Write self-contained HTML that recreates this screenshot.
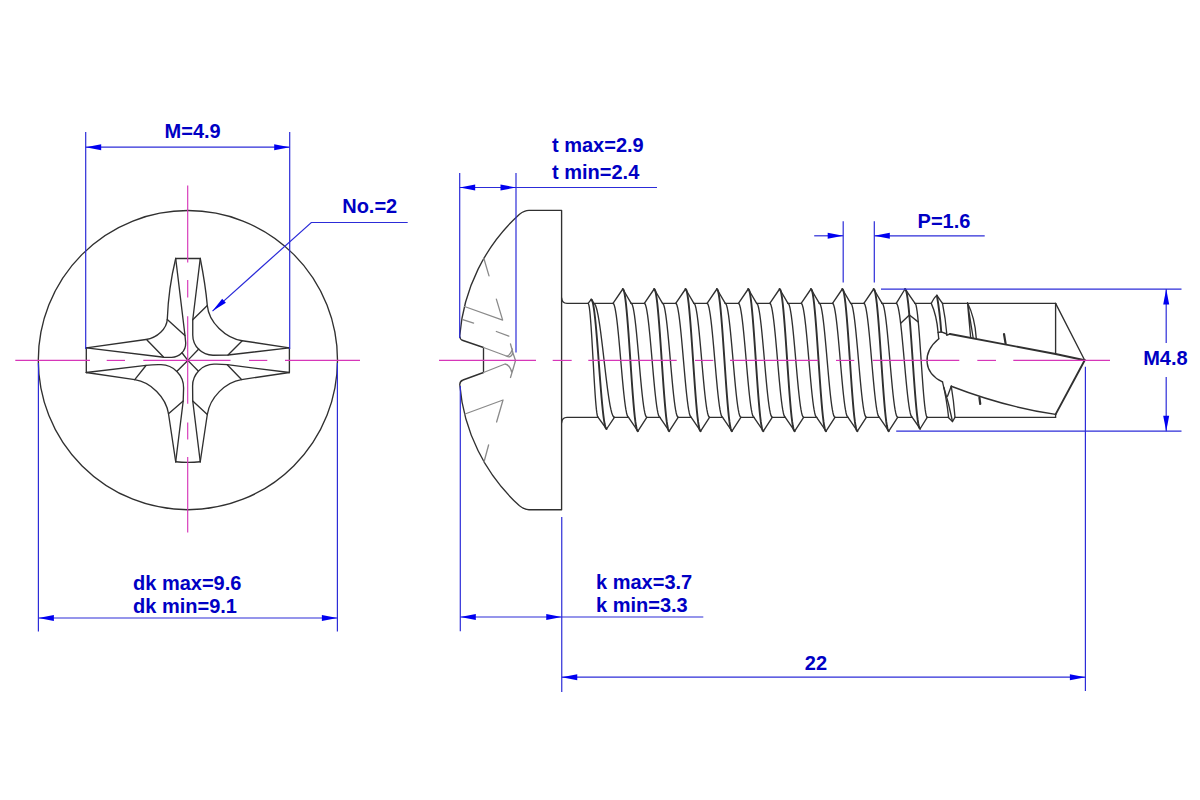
<!DOCTYPE html>
<html><head><meta charset="utf-8"><title>Screw drawing</title>
<style>
html,body{margin:0;padding:0;background:#fff;}
body{width:1200px;height:800px;overflow:hidden;}
svg{display:block;}
.k{fill:none;stroke:#303030;stroke-width:1.35;stroke-linejoin:round;stroke-linecap:round;}
.kc{fill:none;stroke:#303030;stroke-width:1.9;stroke-linejoin:round;stroke-linecap:round;}
.kt{fill:none;stroke:#303030;stroke-width:2.2;stroke-linecap:round;}
.g{fill:none;stroke:#8a8a8a;stroke-width:1.3;stroke-linejoin:round;stroke-linecap:round;}
.b{fill:none;stroke:#2c2cd8;stroke-width:1.2;}
.m{fill:none;stroke:#d636b8;stroke-width:1.15;}
.ar{fill:#0000f0;stroke:none;}
text{font-family:"Liberation Sans",sans-serif;font-weight:bold;font-size:20px;fill:#0000c4;}
</style></head>
<body>
<svg width="1200" height="800" viewBox="0 0 1200 800">
<rect x="0" y="0" width="1200" height="800" fill="#ffffff"/>
<circle cx="187.9" cy="360.15" r="149.6" class="k"/>
<path d="M175.7,258.5 L200.25,258.5" class="k"/>
<path d="M175.7,461.75 Q188,463 200.25,461.75" class="k"/>
<path d="M86.3,347.8 L86.3,372.5" class="k"/>
<path d="M289.4,347.8 L289.4,372.5" class="k"/>
<path d="M175.7,258.5 Q168.5,288 167.3,319 C166.9,328.7 157.3,337.9 146,339.5 L86.3,347.8" class="k"/>
<path d="M175.7,258.5 L185,335.5 L185.7,343 A14 14 0 0 1 171.7,357.3 L164,357.25 L86.3,347.8" class="k"/>
<path d="M167.3,319.5 L184.9,335.5 M147,340 L163.25,356.8 M182,352.75 L187.8,360.4" class="k"/>
<path d="M200.25,258.5 Q205.5,285 207.3,305.5 C208.8,322.4 225.6,338.25 242.25,340.75 L289.4,347.8" class="k"/>
<path d="M200.25,258.5 L192.75,319.75 L192.75,335 A20.2 20.2 0 0 0 213,355.2 L228,355 L289.4,347.8" class="k"/>
<path d="M207.3,305.5 L192.75,319.75 M242.25,340.75 L228,355 M198.75,349 L187.8,360.4" class="k"/>
<path d="M86.3,372.5 L134.75,379.7 C150.8,382.1 166,397.4 168.5,413.75 L175.7,461.75" class="k"/>
<path d="M86.3,372.5 L146,365.3 Q154,364.5 161,364.7 A23 23 0 0 1 183.6,388 L183.2,401 L175.7,461.75" class="k"/>
<path d="M134.75,379.7 L146,365.5 M168.5,413.75 L183.2,401 M177.2,371 L187.8,360.4" class="k"/>
<path d="M289.4,372.5 L241.5,379.55 C225.3,382 209.9,397.7 207.3,414.5 L200.25,461.75" class="k"/>
<path d="M289.4,372.5 L227.25,364.7 Q220,364 214,364.2 A21.7 21.7 0 0 0 192.6,386 L192.75,401 L200.25,461.75" class="k"/>
<path d="M241.5,379.55 L227.25,364.7 M207.3,414.5 L192.75,401 M198,370.8 L187.8,360.4" class="k"/>
<path d="M561.6,360 L561.6,210.3 L529,210.3 Q524.5,210.3 519.5,214.2 A184.5 184.5 0 0 0 459.7,336 Q459.9,339.6 463,340.5 L483.5,347.5 L483.5,372.5 L463,380 Q460,381 459.75,384.5 A184.5 184.5 0 0 0 519.5,505.8 Q524.5,509.75 529,509.75 L561.6,509.75 L561.6,360" class="k"/>
<path d="M561.6,298 Q562,303.3 567,303.4 L588.1,303.4" class="k"/>
<path d="M561.6,422.7 Q562,417.4 567,417.3 L598.1,417.3" class="k"/>
<path d="M483.75,258 L489,275.85 M464.5,306.5 L502.65,320.1 L496.35,299.1 M462.75,319.6 L473.6,323.1 M496.35,331.5 L508.8,336.2" class="g"/>
<path d="M483.5,347.5 L505,355.5 Q509.5,357.5 512.5,349 M505,355.5 Q511,359 512.8,353 M510.5,344 Q513,354 515.5,360.5 Q513.5,368 510.5,377.5 M483.5,372.5 L505,364 Q510,365 512,373" class="g"/>
<path d="M465,414 L503,400 L496.6,422 M488.6,445 L484,462" class="g"/>
<polyline points="588.1,303.4 591.25,299.4 593.75,303.4" class="k"/>
<polyline points="598.1,417.3 606.6,429 614.4,417.3" class="k"/>
<polyline points="588.1,303.4 588.52,303.89 588.93,305.34 589.35,307.74 589.77,311.03 590.18,315.17 590.6,320.08 591.02,325.68 591.43,331.88 591.85,338.56 592.27,345.61 592.68,352.92 593.1,360.35 593.52,367.78 593.93,375.09 594.35,382.14 594.77,388.83 595.18,395.02 595.6,400.62 596.02,405.53 596.43,409.67 596.85,412.96 597.27,415.36 597.68,416.81 598.1,417.3" class="k"/>
<polyline points="591.25,299.4 591.89,299.95 592.53,301.61 593.17,304.33 593.81,308.08 594.45,312.79 595.09,318.38 595.73,324.75 596.37,331.8 597.01,339.4 597.65,347.43 598.29,355.74 598.92,364.2 599.56,372.66 600.2,380.97 600.84,389 601.48,396.6 602.12,403.65 602.76,410.02 603.4,415.61 604.04,420.32 604.68,424.07 605.32,426.79 605.96,428.45 606.6,429" class="kc"/>
<polyline points="593.75,303.4 594.61,303.89 595.47,305.34 596.33,307.74 597.19,311.03 598.05,315.17 598.91,320.08 599.77,325.68 600.63,331.88 601.49,338.56 602.35,345.61 603.21,352.92 604.08,360.35 604.94,367.78 605.8,375.09 606.66,382.14 607.52,388.83 608.38,395.02 609.24,400.62 610.1,405.53 610.96,409.67 611.82,412.96 612.68,415.36 613.54,416.81 614.4,417.3" class="k"/>
<line x1="593.75" y1="303.4" x2="613" y2="303.4" class="k"/>
<line x1="614.4" y1="417.3" x2="628.5" y2="417.3" class="k"/>
<polyline points="613,303.4 622.8,289 631.2,303.4" class="k"/>
<polyline points="628.5,417.3 637.9,431.2 646.8,417.3" class="k"/>
<polyline points="613,303.4 613.65,303.89 614.29,305.34 614.94,307.74 615.58,311.03 616.23,315.17 616.88,320.08 617.52,325.68 618.17,331.88 618.81,338.56 619.46,345.61 620.1,352.92 620.75,360.35 621.4,367.78 622.04,375.09 622.69,382.14 623.33,388.83 623.98,395.02 624.62,400.62 625.27,405.53 625.92,409.67 626.56,412.96 627.21,415.36 627.85,416.81 628.5,417.3" class="k"/>
<polyline points="622.8,289 623.43,289.61 624.06,291.42 624.69,294.41 625.32,298.53 625.95,303.69 626.57,309.82 627.2,316.82 627.83,324.55 628.46,332.89 629.09,341.7 629.72,350.82 630.35,360.1 630.98,369.38 631.61,378.5 632.24,387.31 632.87,395.65 633.5,403.38 634.12,410.38 634.75,416.51 635.38,421.67 636.01,425.79 636.64,428.78 637.27,430.59 637.9,431.2" class="kc"/>
<polyline points="631.2,303.4 631.85,303.89 632.5,305.34 633.15,307.74 633.8,311.03 634.45,315.17 635.1,320.08 635.75,325.68 636.4,331.88 637.05,338.56 637.7,345.61 638.35,352.92 639,360.35 639.65,367.78 640.3,375.09 640.95,382.14 641.6,388.83 642.25,395.02 642.9,400.62 643.55,405.53 644.2,409.67 644.85,412.96 645.5,415.36 646.15,416.81 646.8,417.3" class="k"/>
<line x1="631.2" y1="303.4" x2="644.36" y2="303.4" class="k"/>
<line x1="646.8" y1="417.3" x2="659.86" y2="417.3" class="k"/>
<polyline points="644.36,303.4 654.16,289 662.56,303.4" class="k"/>
<polyline points="659.86,417.3 669.26,431.2 678.16,417.3" class="k"/>
<polyline points="644.36,303.4 645.01,303.89 645.65,305.34 646.3,307.74 646.94,311.03 647.59,315.17 648.24,320.08 648.88,325.68 649.53,331.88 650.17,338.56 650.82,345.61 651.46,352.92 652.11,360.35 652.76,367.78 653.4,375.09 654.05,382.14 654.69,388.83 655.34,395.02 655.99,400.62 656.63,405.53 657.28,409.67 657.92,412.96 658.57,415.36 659.21,416.81 659.86,417.3" class="k"/>
<polyline points="654.16,289 654.79,289.61 655.42,291.42 656.05,294.41 656.68,298.53 657.31,303.69 657.93,309.82 658.56,316.82 659.19,324.55 659.82,332.89 660.45,341.7 661.08,350.82 661.71,360.1 662.34,369.38 662.97,378.5 663.6,387.31 664.23,395.65 664.86,403.38 665.49,410.38 666.11,416.51 666.74,421.67 667.37,425.79 668,428.78 668.63,430.59 669.26,431.2" class="kc"/>
<polyline points="662.56,303.4 663.21,303.89 663.86,305.34 664.51,307.74 665.16,311.03 665.81,315.17 666.46,320.08 667.11,325.68 667.76,331.88 668.41,338.56 669.06,345.61 669.71,352.92 670.36,360.35 671.01,367.78 671.66,375.09 672.31,382.14 672.96,388.83 673.61,395.02 674.26,400.62 674.91,405.53 675.56,409.67 676.21,412.96 676.86,415.36 677.51,416.81 678.16,417.3" class="k"/>
<line x1="662.56" y1="303.4" x2="675.72" y2="303.4" class="k"/>
<line x1="678.16" y1="417.3" x2="691.22" y2="417.3" class="k"/>
<polyline points="675.72,303.4 685.52,289 693.92,303.4" class="k"/>
<polyline points="691.22,417.3 700.62,431.2 709.52,417.3" class="k"/>
<polyline points="675.72,303.4 676.37,303.89 677.01,305.34 677.66,307.74 678.3,311.03 678.95,315.17 679.6,320.08 680.24,325.68 680.89,331.88 681.53,338.56 682.18,345.61 682.82,352.92 683.47,360.35 684.12,367.78 684.76,375.09 685.41,382.14 686.05,388.83 686.7,395.02 687.35,400.62 687.99,405.53 688.64,409.67 689.28,412.96 689.93,415.36 690.57,416.81 691.22,417.3" class="k"/>
<polyline points="685.52,289 686.15,289.61 686.78,291.42 687.41,294.41 688.04,298.53 688.67,303.69 689.29,309.82 689.92,316.82 690.55,324.55 691.18,332.89 691.81,341.7 692.44,350.82 693.07,360.1 693.7,369.38 694.33,378.5 694.96,387.31 695.59,395.65 696.22,403.38 696.85,410.38 697.47,416.51 698.1,421.67 698.73,425.79 699.36,428.78 699.99,430.59 700.62,431.2" class="kc"/>
<polyline points="693.92,303.4 694.57,303.89 695.22,305.34 695.87,307.74 696.52,311.03 697.17,315.17 697.82,320.08 698.47,325.68 699.12,331.88 699.77,338.56 700.42,345.61 701.07,352.92 701.72,360.35 702.37,367.78 703.02,375.09 703.67,382.14 704.32,388.83 704.97,395.02 705.62,400.62 706.27,405.53 706.92,409.67 707.57,412.96 708.22,415.36 708.87,416.81 709.52,417.3" class="k"/>
<line x1="693.92" y1="303.4" x2="707.08" y2="303.4" class="k"/>
<line x1="709.52" y1="417.3" x2="722.58" y2="417.3" class="k"/>
<polyline points="707.08,303.4 716.88,289 725.28,303.4" class="k"/>
<polyline points="722.58,417.3 731.98,431.2 740.88,417.3" class="k"/>
<polyline points="707.08,303.4 707.73,303.89 708.37,305.34 709.02,307.74 709.66,311.03 710.31,315.17 710.96,320.08 711.6,325.68 712.25,331.88 712.89,338.56 713.54,345.61 714.18,352.92 714.83,360.35 715.48,367.78 716.12,375.09 716.77,382.14 717.41,388.83 718.06,395.02 718.71,400.62 719.35,405.53 720,409.67 720.64,412.96 721.29,415.36 721.93,416.81 722.58,417.3" class="k"/>
<polyline points="716.88,289 717.51,289.61 718.14,291.42 718.77,294.41 719.4,298.53 720.03,303.69 720.65,309.82 721.28,316.82 721.91,324.55 722.54,332.89 723.17,341.7 723.8,350.82 724.43,360.1 725.06,369.38 725.69,378.5 726.32,387.31 726.95,395.65 727.58,403.38 728.21,410.38 728.83,416.51 729.46,421.67 730.09,425.79 730.72,428.78 731.35,430.59 731.98,431.2" class="kc"/>
<polyline points="725.28,303.4 725.93,303.89 726.58,305.34 727.23,307.74 727.88,311.03 728.53,315.17 729.18,320.08 729.83,325.68 730.48,331.88 731.13,338.56 731.78,345.61 732.43,352.92 733.08,360.35 733.73,367.78 734.38,375.09 735.03,382.14 735.68,388.83 736.33,395.02 736.98,400.62 737.63,405.53 738.28,409.67 738.93,412.96 739.58,415.36 740.23,416.81 740.88,417.3" class="k"/>
<line x1="725.28" y1="303.4" x2="738.44" y2="303.4" class="k"/>
<line x1="740.88" y1="417.3" x2="753.94" y2="417.3" class="k"/>
<polyline points="738.44,303.4 748.24,289 756.64,303.4" class="k"/>
<polyline points="753.94,417.3 763.34,431.2 772.24,417.3" class="k"/>
<polyline points="738.44,303.4 739.09,303.89 739.73,305.34 740.38,307.74 741.02,311.03 741.67,315.17 742.32,320.08 742.96,325.68 743.61,331.88 744.25,338.56 744.9,345.61 745.54,352.92 746.19,360.35 746.84,367.78 747.48,375.09 748.13,382.14 748.77,388.83 749.42,395.02 750.07,400.62 750.71,405.53 751.36,409.67 752,412.96 752.65,415.36 753.29,416.81 753.94,417.3" class="k"/>
<polyline points="748.24,289 748.87,289.61 749.5,291.42 750.13,294.41 750.76,298.53 751.39,303.69 752.01,309.82 752.64,316.82 753.27,324.55 753.9,332.89 754.53,341.7 755.16,350.82 755.79,360.1 756.42,369.38 757.05,378.5 757.68,387.31 758.31,395.65 758.94,403.38 759.57,410.38 760.19,416.51 760.82,421.67 761.45,425.79 762.08,428.78 762.71,430.59 763.34,431.2" class="kc"/>
<polyline points="756.64,303.4 757.29,303.89 757.94,305.34 758.59,307.74 759.24,311.03 759.89,315.17 760.54,320.08 761.19,325.68 761.84,331.88 762.49,338.56 763.14,345.61 763.79,352.92 764.44,360.35 765.09,367.78 765.74,375.09 766.39,382.14 767.04,388.83 767.69,395.02 768.34,400.62 768.99,405.53 769.64,409.67 770.29,412.96 770.94,415.36 771.59,416.81 772.24,417.3" class="k"/>
<line x1="756.64" y1="303.4" x2="769.8" y2="303.4" class="k"/>
<line x1="772.24" y1="417.3" x2="785.3" y2="417.3" class="k"/>
<polyline points="769.8,303.4 779.6,289 788,303.4" class="k"/>
<polyline points="785.3,417.3 794.7,431.2 803.6,417.3" class="k"/>
<polyline points="769.8,303.4 770.45,303.89 771.09,305.34 771.74,307.74 772.38,311.03 773.03,315.17 773.67,320.08 774.32,325.68 774.97,331.88 775.61,338.56 776.26,345.61 776.9,352.92 777.55,360.35 778.2,367.78 778.84,375.09 779.49,382.14 780.13,388.83 780.78,395.02 781.42,400.62 782.07,405.53 782.72,409.67 783.36,412.96 784.01,415.36 784.65,416.81 785.3,417.3" class="k"/>
<polyline points="779.6,289 780.23,289.61 780.86,291.42 781.49,294.41 782.12,298.53 782.75,303.69 783.37,309.82 784,316.82 784.63,324.55 785.26,332.89 785.89,341.7 786.52,350.82 787.15,360.1 787.78,369.38 788.41,378.5 789.04,387.31 789.67,395.65 790.3,403.38 790.92,410.38 791.55,416.51 792.18,421.67 792.81,425.79 793.44,428.78 794.07,430.59 794.7,431.2" class="kc"/>
<polyline points="788,303.4 788.65,303.89 789.3,305.34 789.95,307.74 790.6,311.03 791.25,315.17 791.9,320.08 792.55,325.68 793.2,331.88 793.85,338.56 794.5,345.61 795.15,352.92 795.8,360.35 796.45,367.78 797.1,375.09 797.75,382.14 798.4,388.83 799.05,395.02 799.7,400.62 800.35,405.53 801,409.67 801.65,412.96 802.3,415.36 802.95,416.81 803.6,417.3" class="k"/>
<line x1="788" y1="303.4" x2="801.16" y2="303.4" class="k"/>
<line x1="803.6" y1="417.3" x2="816.66" y2="417.3" class="k"/>
<polyline points="801.16,303.4 810.96,289 819.36,303.4" class="k"/>
<polyline points="816.66,417.3 826.06,431.2 834.96,417.3" class="k"/>
<polyline points="801.16,303.4 801.81,303.89 802.45,305.34 803.1,307.74 803.74,311.03 804.39,315.17 805.03,320.08 805.68,325.68 806.33,331.88 806.97,338.56 807.62,345.61 808.26,352.92 808.91,360.35 809.56,367.78 810.2,375.09 810.85,382.14 811.49,388.83 812.14,395.02 812.78,400.62 813.43,405.53 814.08,409.67 814.72,412.96 815.37,415.36 816.01,416.81 816.66,417.3" class="k"/>
<polyline points="810.96,289 811.59,289.61 812.22,291.42 812.85,294.41 813.48,298.53 814.11,303.69 814.73,309.82 815.36,316.82 815.99,324.55 816.62,332.89 817.25,341.7 817.88,350.82 818.51,360.1 819.14,369.38 819.77,378.5 820.4,387.31 821.03,395.65 821.66,403.38 822.28,410.38 822.91,416.51 823.54,421.67 824.17,425.79 824.8,428.78 825.43,430.59 826.06,431.2" class="kc"/>
<polyline points="819.36,303.4 820.01,303.89 820.66,305.34 821.31,307.74 821.96,311.03 822.61,315.17 823.26,320.08 823.91,325.68 824.56,331.88 825.21,338.56 825.86,345.61 826.51,352.92 827.16,360.35 827.81,367.78 828.46,375.09 829.11,382.14 829.76,388.83 830.41,395.02 831.06,400.62 831.71,405.53 832.36,409.67 833.01,412.96 833.66,415.36 834.31,416.81 834.96,417.3" class="k"/>
<line x1="819.36" y1="303.4" x2="832.52" y2="303.4" class="k"/>
<line x1="834.96" y1="417.3" x2="848.02" y2="417.3" class="k"/>
<polyline points="832.52,303.4 842.32,289 850.72,303.4" class="k"/>
<polyline points="848.02,417.3 857.42,431.2 866.32,417.3" class="k"/>
<polyline points="832.52,303.4 833.17,303.89 833.81,305.34 834.46,307.74 835.1,311.03 835.75,315.17 836.39,320.08 837.04,325.68 837.69,331.88 838.33,338.56 838.98,345.61 839.62,352.92 840.27,360.35 840.92,367.78 841.56,375.09 842.21,382.14 842.85,388.83 843.5,395.02 844.14,400.62 844.79,405.53 845.44,409.67 846.08,412.96 846.73,415.36 847.37,416.81 848.02,417.3" class="k"/>
<polyline points="842.32,289 842.95,289.61 843.58,291.42 844.21,294.41 844.84,298.53 845.47,303.69 846.09,309.82 846.72,316.82 847.35,324.55 847.98,332.89 848.61,341.7 849.24,350.82 849.87,360.1 850.5,369.38 851.13,378.5 851.76,387.31 852.39,395.65 853.02,403.38 853.64,410.38 854.27,416.51 854.9,421.67 855.53,425.79 856.16,428.78 856.79,430.59 857.42,431.2" class="kc"/>
<polyline points="850.72,303.4 851.37,303.89 852.02,305.34 852.67,307.74 853.32,311.03 853.97,315.17 854.62,320.08 855.27,325.68 855.92,331.88 856.57,338.56 857.22,345.61 857.87,352.92 858.52,360.35 859.17,367.78 859.82,375.09 860.47,382.14 861.12,388.83 861.77,395.02 862.42,400.62 863.07,405.53 863.72,409.67 864.37,412.96 865.02,415.36 865.67,416.81 866.32,417.3" class="k"/>
<line x1="850.72" y1="303.4" x2="863.88" y2="303.4" class="k"/>
<line x1="866.32" y1="417.3" x2="879.38" y2="417.3" class="k"/>
<polyline points="863.88,303.4 873.68,289 882.08,303.4" class="k"/>
<polyline points="879.38,417.3 888.78,431.2 897.68,417.3" class="k"/>
<polyline points="863.88,303.4 864.53,303.89 865.17,305.34 865.82,307.74 866.46,311.03 867.11,315.17 867.75,320.08 868.4,325.68 869.05,331.88 869.69,338.56 870.34,345.61 870.98,352.92 871.63,360.35 872.28,367.78 872.92,375.09 873.57,382.14 874.21,388.83 874.86,395.02 875.5,400.62 876.15,405.53 876.8,409.67 877.44,412.96 878.09,415.36 878.73,416.81 879.38,417.3" class="k"/>
<polyline points="873.68,289 874.31,289.61 874.94,291.42 875.57,294.41 876.2,298.53 876.83,303.69 877.45,309.82 878.08,316.82 878.71,324.55 879.34,332.89 879.97,341.7 880.6,350.82 881.23,360.1 881.86,369.38 882.49,378.5 883.12,387.31 883.75,395.65 884.38,403.38 885,410.38 885.63,416.51 886.26,421.67 886.89,425.79 887.52,428.78 888.15,430.59 888.78,431.2" class="kc"/>
<polyline points="882.08,303.4 882.73,303.89 883.38,305.34 884.03,307.74 884.68,311.03 885.33,315.17 885.98,320.08 886.63,325.68 887.28,331.88 887.93,338.56 888.58,345.61 889.23,352.92 889.88,360.35 890.53,367.78 891.18,375.09 891.83,382.14 892.48,388.83 893.13,395.02 893.78,400.62 894.43,405.53 895.08,409.67 895.73,412.96 896.38,415.36 897.03,416.81 897.68,417.3" class="k"/>
<line x1="882.08" y1="303.4" x2="896.24" y2="303.4" class="k"/>
<line x1="897.68" y1="417.3" x2="912.24" y2="417.3" class="k"/>
<polyline points="896.24,303.4 905.04,289 915.04,303.4" class="k"/>
<polyline points="912.24,417.3 920.14,428.75 927.24,417.3" class="k"/>
<polyline points="896.24,303.4 896.91,303.89 897.57,305.34 898.24,307.74 898.91,311.03 899.57,315.17 900.24,320.08 900.91,325.68 901.57,331.88 902.24,338.56 902.91,345.61 903.57,352.92 904.24,360.35 904.91,367.78 905.57,375.09 906.24,382.14 906.91,388.83 907.57,395.02 908.24,400.62 908.91,405.53 909.57,409.67 910.24,412.96 910.91,415.36 911.57,416.81 912.24,417.3" class="k"/>
<polyline points="905.04,289 905.67,289.6 906.3,291.38 906.93,294.32 907.56,298.36 908.19,303.44 908.81,309.47 909.44,316.34 910.07,323.94 910.7,332.13 911.33,340.79 911.96,349.75 912.59,358.88 913.22,368 913.85,376.96 914.48,385.62 915.11,393.81 915.74,401.41 916.37,408.28 916.99,414.31 917.62,419.39 918.25,423.43 918.88,426.37 919.51,428.15 920.14,428.75" class="kc"/>
<polyline points="915.04,303.4 915.55,303.89 916.06,305.34 916.56,307.74 917.07,311.03 917.58,315.17 918.09,320.08 918.6,325.68 919.11,331.88 919.62,338.56 920.12,345.61 920.63,352.92 921.14,360.35 921.65,367.78 922.16,375.09 922.66,382.14 923.17,388.83 923.68,395.02 924.19,400.62 924.7,405.53 925.21,409.67 925.72,412.96 926.22,415.36 926.73,416.81 927.24,417.3" class="k"/>
<polyline points="901,323.1 909.4,315 918.1,321.9" class="k"/>
<line x1="915.04" y1="303.4" x2="931.25" y2="303.4" class="k"/>
<path d="M931.25,303.4 Q934.5,297 936.9,295.5 L942.5,303.4" class="k"/>
<path d="M931.25,303.4 Q936.6,315 938.1,332.5 L938.75,338.75" class="k"/>
<path d="M936.9,295.5 Q939.8,312 941.25,331.9" class="kc"/>
<path d="M942.5,303.4 Q945.5,318 946.9,335" class="k"/>
<polyline points="938.1,332.5 941.25,331.9 946.25,333.75 946.9,335.2 950,334" class="k"/>
<line x1="942.5" y1="303.4" x2="1055.6" y2="303.4" class="k"/>
<line x1="927.24" y1="417.3" x2="948.1" y2="417.3" class="k"/>
<polyline points="948.1,417.3 952.5,421.5 955,417.3" class="k"/>
<line x1="955" y1="417.3" x2="1055.6" y2="417.3" class="k"/>
<path d="M942.5,381.9 Q946.5,398 948.6,417.3" class="k"/>
<path d="M943.9,387.5 Q949,404 952.5,421.5" class="k"/>
<path d="M951.25,386.25 L947.5,396.25" class="k"/>
<path d="M951.25,386.25 Q953.8,401 955,417.3" class="k"/>
<path d="M938.75,338.75 C930,346 926.3,355 927.1,362.5 C927.8,370 932,377 942.5,381.9" class="k"/>
<path d="M950,334 L1055.6,354 L1084.7,360.2" class="kc"/>
<path d="M951.25,386.25 Q1005,407 1055.6,414.4" class="k"/>
<path d="M1055.6,303.4 L1084.7,360.2" class="k"/>
<path d="M1084.7,360.2 L1055.6,414.4" class="kc"/>
<path d="M1055.6,414.4 L1055.6,417.3" class="k"/>
<path d="M1055.6,303.4 L1055.6,353.8" class="k"/>
<path d="M967.5,302.8 L970.6,336.9 M967.5,302.8 L973.1,337.5 M967.5,302.8 Q975,318 976.25,338.1" class="k"/>
<path d="M1004,334 L1005.6,343.6" class="kt"/>
<path d="M979.4,397.5 L980.25,404" class="kt"/>
<line x1="15.3" y1="360.4" x2="90" y2="360.4" class="m"/>
<line x1="106.7" y1="360.4" x2="125" y2="360.4" class="m"/>
<line x1="143.3" y1="360.4" x2="230.5" y2="360.4" class="m"/>
<line x1="249" y1="360.4" x2="267.3" y2="360.4" class="m"/>
<line x1="285" y1="360.4" x2="360" y2="360.4" class="m"/>
<line x1="187.7" y1="185.5" x2="187.7" y2="262.5" class="m"/>
<line x1="187.7" y1="280" x2="187.7" y2="297.5" class="m"/>
<line x1="187.7" y1="316.25" x2="187.7" y2="403.75" class="m"/>
<line x1="187.7" y1="422.5" x2="187.7" y2="439.5" class="m"/>
<line x1="187.7" y1="457" x2="187.7" y2="532.5" class="m"/>
<line x1="439" y1="360.4" x2="536" y2="360.4" class="m"/>
<line x1="552.7" y1="360.4" x2="571.7" y2="360.4" class="m"/>
<line x1="588.3" y1="360.4" x2="676.7" y2="360.4" class="m"/>
<line x1="695" y1="360.4" x2="713.3" y2="360.4" class="m"/>
<line x1="730" y1="360.4" x2="818.3" y2="360.4" class="m"/>
<line x1="836" y1="360.4" x2="854.3" y2="360.4" class="m"/>
<line x1="872.7" y1="360.4" x2="959.3" y2="360.4" class="m"/>
<line x1="977.3" y1="360.4" x2="996" y2="360.4" class="m"/>
<line x1="1013.3" y1="360.4" x2="1110" y2="360.4" class="m"/>
<line x1="85.7" y1="132" x2="85.7" y2="349" class="b"/>
<line x1="289.7" y1="132" x2="289.7" y2="349" class="b"/>
<line x1="85.7" y1="147.2" x2="289.7" y2="147.2" class="b"/>
<polygon points="85.7,147.2 101.2,144.2 101.2,150.2" class="ar"/>
<polygon points="289.7,147.2 274.2,150.2 274.2,144.2" class="ar"/>
<text x="164.6" y="137.75" text-anchor="start">M=4.9</text>
<line x1="38.4" y1="363" x2="38.4" y2="631.6" class="b"/>
<line x1="337.4" y1="363" x2="337.4" y2="631.6" class="b"/>
<line x1="38.4" y1="618" x2="337.4" y2="618" class="b"/>
<polygon points="38.4,618 53.9,615 53.9,621" class="ar"/>
<polygon points="337.4,618 321.9,621 321.9,615" class="ar"/>
<text x="133" y="590" text-anchor="start">dk max=9.6</text>
<text x="133" y="612.6" text-anchor="start">dk min=9.1</text>
<polyline points="407.7,222.5 311.3,222.5 212.5,311.1" class="b"/>
<polygon points="212.5,311.1 222.17,298.67 225.91,302.84" class="ar"/>
<text x="342.2" y="212.6" text-anchor="start">No.=2</text>
<line x1="459.7" y1="172.9" x2="459.7" y2="338" class="b"/>
<line x1="516" y1="172.9" x2="516" y2="352.5" class="b"/>
<line x1="459.7" y1="187.5" x2="657" y2="187.5" class="b"/>
<polygon points="459.7,187.5 475.2,184.5 475.2,190.5" class="ar"/>
<polygon points="516,187.5 500.5,190.5 500.5,184.5" class="ar"/>
<text x="552" y="151.5" text-anchor="start">t max=2.9</text>
<text x="552" y="179.2" text-anchor="start">t min=2.4</text>
<line x1="460.3" y1="386" x2="460.3" y2="631.3" class="b"/>
<line x1="561.75" y1="517" x2="561.75" y2="692" class="b"/>
<line x1="460.3" y1="617" x2="703.3" y2="617" class="b"/>
<polygon points="460.3,617 475.8,614 475.8,620" class="ar"/>
<polygon points="561.75,617 546.25,620 546.25,614" class="ar"/>
<text x="596" y="589.25" text-anchor="start">k max=3.7</text>
<text x="596" y="611.75" text-anchor="start">k min=3.3</text>
<line x1="1085.4" y1="366.8" x2="1085.4" y2="691" class="b"/>
<line x1="561.75" y1="677.2" x2="1085.4" y2="677.2" class="b"/>
<polygon points="561.75,677.2 577.25,674.2 577.25,680.2" class="ar"/>
<polygon points="1085.4,677.2 1069.9,680.2 1069.9,674.2" class="ar"/>
<text x="815.9" y="669.7" text-anchor="middle">22</text>
<line x1="843.2" y1="221.2" x2="843.2" y2="282.6" class="b"/>
<line x1="874.3" y1="221.2" x2="874.3" y2="282.6" class="b"/>
<line x1="814.2" y1="235.8" x2="843.2" y2="235.8" class="b"/>
<line x1="874.3" y1="235.8" x2="984.7" y2="235.8" class="b"/>
<polygon points="843.2,235.8 827.7,238.8 827.7,232.8" class="ar"/>
<polygon points="874.3,235.8 889.8,232.8 889.8,238.8" class="ar"/>
<text x="917.6" y="227.6" text-anchor="start">P=1.6</text>
<line x1="881" y1="289.1" x2="1181.5" y2="289.1" class="b"/>
<line x1="896.2" y1="431.2" x2="1181.5" y2="431.2" class="b"/>
<line x1="1166.2" y1="289.1" x2="1166.2" y2="343.1" class="b"/>
<line x1="1166.2" y1="376.9" x2="1166.2" y2="431.2" class="b"/>
<polygon points="1166.2,289.1 1169.2,304.6 1163.2,304.6" class="ar"/>
<polygon points="1166.2,431.2 1163.2,415.7 1169.2,415.7" class="ar"/>
<text x="1143.2" y="364.5" text-anchor="start">M4.8</text>
</svg>
</body></html>
